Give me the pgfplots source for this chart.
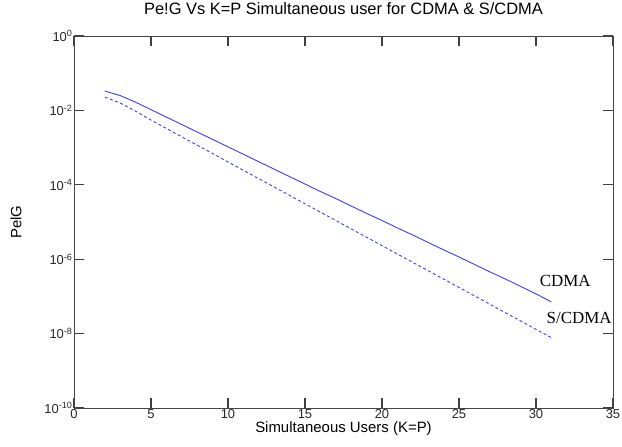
\documentclass[border=0pt]{standalone}
\usepackage{fontspec}
\setmainfont{Liberation Sans}
\newfontfamily\labelserif{Liberation Serif}
\usepackage{pgfplots}
\pgfplotsset{compat=1.18}

% error probability of the two schemes versus number of simultaneous users
\pgfplotstableread{
K    pe
2    3.31e-2
3    2.51e-2
4    1.66e-2
5    1.047e-2
6    6.61e-3
7    4.17e-3
8    2.63e-3
9    1.66e-3
10   1.05e-3
11   6.61e-4
12   4.17e-4
13   2.63e-4
14   1.66e-4
15   1.05e-4
16   6.61e-5
17   4.27e-5
18   2.69e-5
19   1.70e-5
20   1.10e-5
21   6.92e-6
22   4.47e-6
23   2.82e-6
24   1.78e-6
25   1.15e-6
26   7.24e-7
27   4.57e-7
28   2.95e-7
29   1.86e-7
30   1.17e-7
31   7.08e-8
}\cdma

\pgfplotstableread{
K    pe
2    2.29e-2
3    1.58e-2
4    9.55e-3
5    5.50e-3
6    3.27e-3
7    1.95e-3
8    1.16e-3
9    6.92e-4
10   4.12e-4
11   2.45e-4
12   1.46e-4
13   8.71e-5
14   5.19e-5
15   3.09e-5
16   1.84e-5
17   1.10e-5
18   6.53e-6
19   3.89e-6
20   2.32e-6
21   1.38e-6
22   8.22e-7
23   4.90e-7
24   2.92e-7
25   1.74e-7
26   1.04e-7
27   6.17e-8
28   3.67e-8
29   2.19e-8
30   1.30e-8
31   7.76e-9
}\scdma

\definecolor{axisgray}{RGB}{70,70,70}
\definecolor{curveblue}{RGB}{60,60,255}

\begin{document}
\begin{tikzpicture}
\useasboundingbox (-74bp,-39bp) rectangle (548bp,408bp);
\begin{semilogyaxis}[
  at={(0,0)}, anchor=south west,
  scale only axis,
  width=539bp, height=372bp,
  xmin=0, xmax=35, ymin=1e-10, ymax=1,
  xtick={0,5,...,35},
  xticklabels={0,5,10,15,20,25,30,35},
  ytick={1,1e-2,1e-4,1e-6,1e-8,1e-10},
  yticklabels={10\textsuperscript{0},10\textsuperscript{-2},10\textsuperscript{-4},10\textsuperscript{-6},10\textsuperscript{-8},10\textsuperscript{-10}},
  minor ytick={},
  axis line style={axisgray, line width=0.9pt},
  tick style={black!75, line width=1.2pt},
  major tick length=10bp,
  tick label style={font=\fontsize{13}{13}\selectfont, text=black!85},
  xticklabel style={yshift=2bp},
  yticklabel style={xshift=2bp},
  title={Pe!G Vs K=P Simultaneous user for CDMA \& S/CDMA},
  title style={font=\fontsize{16.5}{17}\selectfont, at={(0.5,1)}, anchor=south, yshift=12bp},
  xlabel={Simultaneous Users (K=P)},
  ylabel={PelG},
  label style={font=\fontsize{15}{15}\selectfont},
  xlabel style={yshift=4bp},
  ylabel style={yshift=16bp},
  clip=false,
]
\addplot[curveblue, line width=0.9pt] table[x=K, y=pe] {\cdma};
\addplot[curveblue, line width=0.9pt, dash pattern=on 3pt off 2.5pt] table[x=K, y=pe] {\scdma};
\node[font=\labelserif\fontsize{17}{17}\selectfont] at (axis cs:31.9,2.6e-7) {CDMA};
\node[font=\labelserif\fontsize{17}{17}\selectfont] at (axis cs:32.8,2.6e-8) {S/CDMA};
\end{semilogyaxis}
\end{tikzpicture}
\end{document}
